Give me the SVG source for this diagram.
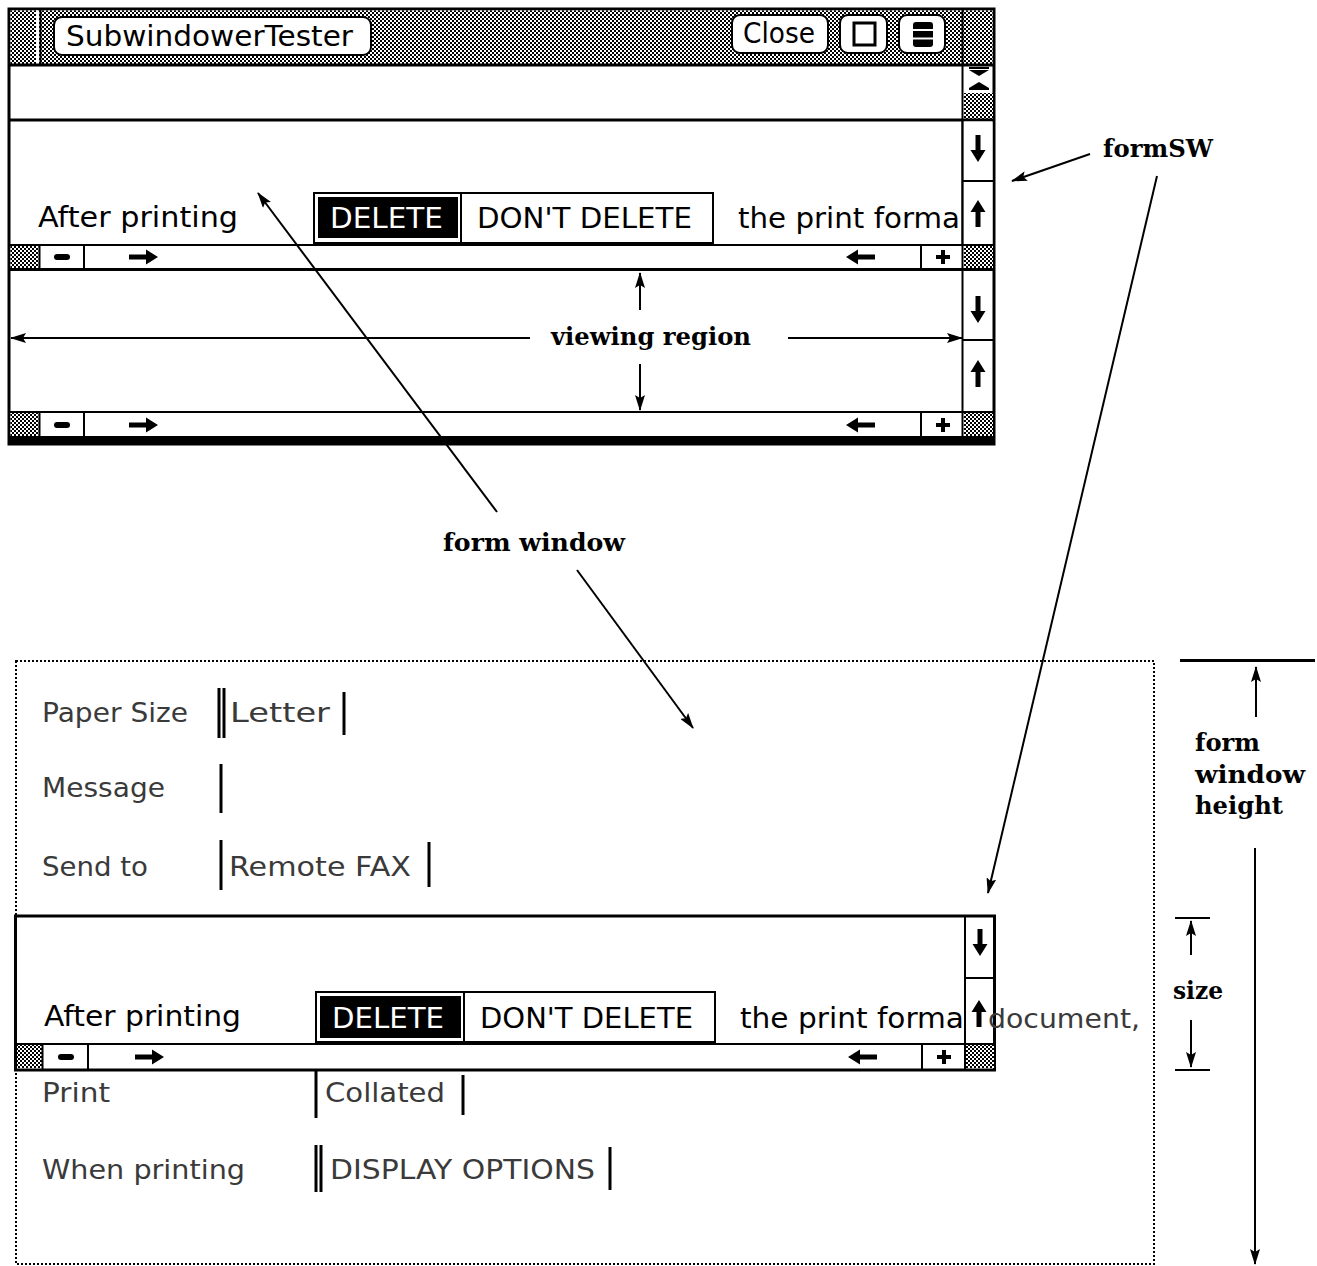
<svg xmlns="http://www.w3.org/2000/svg" xmlns:xlink="http://www.w3.org/1999/xlink" width="1317" height="1266" viewBox="0 0 1317 1266">
<style>
.ui{font-family:"DejaVu Sans","Liberation Sans",sans-serif;font-size:28px;fill:#000}
.inv{font-family:"DejaVu Sans","Liberation Sans",sans-serif;font-size:28px;fill:#fff}
.fld{font-family:"DejaVu Sans","Liberation Sans",sans-serif;font-size:27px;fill:#3a3a3a}
.ann{font-family:"DejaVu Serif","Liberation Serif",serif;font-size:25px;font-weight:bold;fill:#000}
.ln{stroke:#000;fill:none}
.bar{stroke:#000;stroke-width:3}
.conn{stroke:#000;stroke-width:2;fill:none}
.btn{fill:#fff;stroke:#000;stroke-width:2}
</style>
<defs>
<pattern id="chk" width="4" height="4" patternUnits="userSpaceOnUse">
<rect width="4" height="4" fill="#fff"/>
<rect width="2" height="2" fill="#000"/>
<rect x="2" y="2" width="2" height="2" fill="#000"/>
</pattern>
<marker id="ah" markerUnits="userSpaceOnUse" markerWidth="16" markerHeight="10" refX="15" refY="5" orient="auto-start-reverse">
<path d="M0,0 L16,5 L0,10 L3,5 z" fill="#000"/>
</marker>
<path id="aDown" d="M-2.5,-14 h5 v15 h5 l-7.5,12 l-7.5,-12 h5 z" fill="#000"/>
<path id="aUp" d="M-2.5,14 h5 v-15 h5 l-7.5,-12 l-7.5,12 h5 z" fill="#000"/>
<path id="aRight" d="M-15,-2.5 h17 v-5 l12,7.5 l-12,7.5 v-5 h-17 z" fill="#000"/>
<path id="aLeft" d="M15,-2.5 h-17 v-5 l-12,7.5 l12,7.5 v-5 h17 z" fill="#000"/>
<rect id="minus" x="-8" y="-3" width="16" height="6" rx="3" fill="#000"/>
<path id="plus" d="M-2,-7 h4 v5 h5 v4 h-5 v5 h-4 v-5 h-5 v-4 h5 z" fill="#000"/>
</defs>

<!-- Top window -->
<g id="topWindow">
<rect x="9" y="9" width="985" height="435" fill="#fff" stroke="#000" stroke-width="3"/>
<rect x="10.5" y="10.5" width="982" height="54" fill="url(#chk)"/>
<rect x="36" y="10.5" width="3" height="54" fill="#fff"/>
<line class="ln" x1="40.5" y1="10" x2="40.5" y2="65" stroke-width="2"/>
<line class="ln" x1="9" y1="65" x2="994" y2="65" stroke-width="3"/>
<g id="titleButton">
<rect class="btn" x="54" y="17" width="317" height="38" rx="8"/>
<text class="ui" x="66" y="46" textLength="287" lengthAdjust="spacingAndGlyphs">SubwindowerTester</text>
</g>
<g id="closeButton">
<rect class="btn" x="732" y="15" width="96" height="38" rx="8"/>
<text class="ui" x="743" y="43" textLength="72" lengthAdjust="spacingAndGlyphs">Close</text>
</g>
<g id="sizeButton">
<rect class="btn" x="840" y="15" width="47" height="38" rx="8"/>
<rect x="854" y="23" width="21" height="22" fill="#fff" stroke="#000" stroke-width="3"/>
</g>
<g id="menuButton">
<rect class="btn" x="899" y="15" width="46" height="38" rx="8"/>
<rect x="913" y="22" width="20" height="25" rx="3" fill="#000"/>
<line x1="913" y1="30" x2="933" y2="30" stroke="#fff" stroke-width="2"/>
<line x1="913" y1="38.5" x2="933" y2="38.5" stroke="#fff" stroke-width="2"/>
</g>
<line class="ln" x1="962.5" y1="10" x2="962.5" y2="437" stroke-width="2"/>

<!-- top subwindow scroll column -->
<rect x="969" y="67" width="20" height="2" fill="#000"/>
<polygon points="969,70 989,70 979,76" fill="#000"/>
<polygon points="969,88 989,88 979,82" fill="#000"/>
<rect x="969" y="88" width="20" height="2" fill="#000"/>
<rect x="964" y="93" width="29" height="26" fill="url(#chk)"/>
<line class="ln" x1="9" y1="120" x2="994" y2="120" stroke-width="3"/>

<!-- middle subwindow -->
<text class="ui" x="38" y="227" textLength="200" lengthAdjust="spacingAndGlyphs">After printing</text>
<rect x="314" y="193" width="147" height="50" fill="#fff" stroke="#000" stroke-width="2"/>
<rect x="318" y="197" width="140" height="41" fill="#000"/>
<text class="inv" x="330" y="228" textLength="113" lengthAdjust="spacingAndGlyphs">DELETE</text>
<rect x="461" y="193" width="252" height="50" fill="#fff" stroke="#000" stroke-width="2"/>
<text class="ui" x="477" y="228" textLength="215" lengthAdjust="spacingAndGlyphs">DON'T DELETE</text>
<text class="ui" x="738" y="228" textLength="222" lengthAdjust="spacingAndGlyphs">the print forma</text>
<rect x="963.5" y="121.5" width="29" height="123" fill="#fff"/>
<line class="ln" x1="962.5" y1="121" x2="962.5" y2="245" stroke-width="2"/>
<line class="ln" x1="963" y1="181" x2="993" y2="181" stroke-width="2"/>
<use href="#aDown" x="978" y="149"/>
<use href="#aUp" x="978" y="213"/>
<!-- middle h-scrollbar -->
<line class="ln" x1="10" y1="245" x2="993" y2="245" stroke-width="2"/>
<rect x="10.5" y="246" width="28" height="22" fill="url(#chk)"/>
<line class="ln" x1="39.5" y1="245" x2="39.5" y2="269" stroke-width="2"/>
<line class="ln" x1="84" y1="245" x2="84" y2="269" stroke-width="2"/>
<use href="#minus" x="62" y="257"/>
<use href="#aRight" x="144" y="257"/>
<use href="#aLeft" x="860" y="257"/>
<line class="ln" x1="921" y1="245" x2="921" y2="269" stroke-width="2"/>
<use href="#plus" x="943" y="257"/>
<rect x="964" y="246" width="29" height="22" fill="url(#chk)"/>
<line class="ln" x1="9" y1="269.5" x2="994" y2="269.5" stroke-width="3"/>

<!-- lower subwindow -->
<line class="ln" x1="963" y1="340" x2="993" y2="340" stroke-width="2"/>
<use href="#aDown" x="978" y="310"/>
<use href="#aUp" x="978" y="373"/>
<line class="ln" x1="10" y1="412" x2="993" y2="412" stroke-width="2"/>
<rect x="10.5" y="413" width="28" height="23" fill="url(#chk)"/>
<line class="ln" x1="39.5" y1="412" x2="39.5" y2="437" stroke-width="2"/>
<line class="ln" x1="84" y1="412" x2="84" y2="437" stroke-width="2"/>
<use href="#minus" x="62" y="425"/>
<use href="#aRight" x="144" y="425"/>
<use href="#aLeft" x="860" y="425"/>
<line class="ln" x1="921" y1="412" x2="921" y2="437" stroke-width="2"/>
<use href="#plus" x="943" y="425"/>
<rect x="964" y="413" width="29" height="23" fill="url(#chk)"/>
<rect x="9" y="436" width="986" height="9" fill="#000"/>
</g>

<!-- Bottom form window -->
<g id="formWindow">
<rect x="16" y="661" width="1138" height="603" fill="none" stroke="#000" stroke-width="2" stroke-dasharray="2 2"/>
<text class="fld" x="42" y="722" textLength="146" lengthAdjust="spacingAndGlyphs">Paper Size</text>
<line class="bar" x1="219" y1="688" x2="219" y2="738"/>
<line class="bar" x1="224" y1="688" x2="224" y2="738"/>
<text class="fld" x="230" y="722" textLength="100" lengthAdjust="spacingAndGlyphs">Letter</text>
<line class="bar" x1="344" y1="692" x2="344" y2="735"/>
<text class="fld" x="42" y="797" textLength="123" lengthAdjust="spacingAndGlyphs">Message</text>
<line class="bar" x1="221" y1="764" x2="221" y2="813"/>
<text class="fld" x="42" y="876" textLength="106" lengthAdjust="spacingAndGlyphs">Send to</text>
<line class="bar" x1="221" y1="840" x2="221" y2="890"/>
<text class="fld" x="229" y="876" textLength="182" lengthAdjust="spacingAndGlyphs">Remote FAX</text>
<line class="bar" x1="429" y1="842" x2="429" y2="887"/>
<text class="fld" x="42" y="1102" textLength="68" lengthAdjust="spacingAndGlyphs">Print</text>
<line class="bar" x1="316" y1="1070" x2="316" y2="1118"/>
<text class="fld" x="325" y="1102" textLength="120" lengthAdjust="spacingAndGlyphs">Collated</text>
<line class="bar" x1="463" y1="1075" x2="463" y2="1115"/>
<text class="fld" x="42" y="1179" textLength="203" lengthAdjust="spacingAndGlyphs">When printing</text>
<line class="bar" x1="316" y1="1145" x2="316" y2="1192"/>
<line class="bar" x1="321" y1="1145" x2="321" y2="1192"/>
<text class="fld" x="330" y="1179" textLength="265" lengthAdjust="spacingAndGlyphs">DISPLAY OPTIONS</text>
<line class="bar" x1="610" y1="1147" x2="610" y2="1190"/>
</g>

<!-- Inset subwindow (size) -->
<g id="insetWindow">
<rect x="15.5" y="916" width="979" height="154" fill="#fff" stroke="#000" stroke-width="3"/>
<text class="ui" x="44" y="1026" textLength="197" lengthAdjust="spacingAndGlyphs">After printing</text>
<rect x="316" y="992" width="148" height="50" fill="#fff" stroke="#000" stroke-width="2"/>
<rect x="320" y="996" width="141" height="42" fill="#000"/>
<text class="inv" x="332" y="1028" textLength="112" lengthAdjust="spacingAndGlyphs">DELETE</text>
<rect x="464" y="992" width="251" height="50" fill="#fff" stroke="#000" stroke-width="2"/>
<text class="ui" x="480" y="1028" textLength="213" lengthAdjust="spacingAndGlyphs">DON'T DELETE</text>
<text class="ui" x="740" y="1028" textLength="224" lengthAdjust="spacingAndGlyphs">the print forma</text>
<text class="fld" x="988" y="1028" textLength="152" lengthAdjust="spacingAndGlyphs">document,</text>
<line class="ln" x1="965" y1="917" x2="965" y2="1070" stroke-width="2"/>
<line class="ln" x1="965" y1="978" x2="995" y2="978" stroke-width="2"/>
<use href="#aDown" x="980" y="943"/>
<use href="#aUp" x="979" y="1013"/>
<line class="ln" x1="16" y1="1044" x2="995" y2="1044" stroke-width="2"/>
<rect x="17" y="1045" width="25" height="23" fill="url(#chk)"/>
<line class="ln" x1="42.5" y1="1044" x2="42.5" y2="1070" stroke-width="2"/>
<line class="ln" x1="88" y1="1044" x2="88" y2="1070" stroke-width="2"/>
<use href="#minus" x="66" y="1057"/>
<use href="#aRight" x="150" y="1057"/>
<use href="#aLeft" x="862" y="1057"/>
<line class="ln" x1="922" y1="1044" x2="922" y2="1070" stroke-width="2"/>
<use href="#plus" x="944" y="1057"/>
<rect x="966" y="1045" width="28" height="23" fill="url(#chk)"/>
</g>

<!-- Annotation labels -->
<g id="labelFormSW"><text class="ann" x="1103" y="157" textLength="110" lengthAdjust="spacingAndGlyphs">formSW</text></g>
<g id="labelViewing"><text class="ann" x="551" y="345" textLength="200" lengthAdjust="spacingAndGlyphs">viewing region</text></g>
<g id="labelFormWindow"><text class="ann" x="443" y="551" textLength="182" lengthAdjust="spacingAndGlyphs">form window</text></g>
<g id="labelHeight">
<text class="ann" x="1195" y="751" textLength="65" lengthAdjust="spacingAndGlyphs">form</text>
<text class="ann" x="1195" y="783" textLength="110" lengthAdjust="spacingAndGlyphs">window</text>
<text class="ann" x="1195" y="814" textLength="88" lengthAdjust="spacingAndGlyphs">height</text>
</g>
<g id="labelSize"><text class="ann" x="1173" y="999" textLength="50" lengthAdjust="spacingAndGlyphs">size</text></g>

<!-- Connectors -->
<g id="connectors">
<line class="conn" x1="1090" y1="154" x2="1012" y2="181" marker-end="url(#ah)"/>
<line class="conn" x1="1157" y1="176" x2="988" y2="893" marker-end="url(#ah)"/>
<line class="conn" x1="530" y1="338" x2="11" y2="338" marker-end="url(#ah)"/>
<line class="conn" x1="788" y1="338" x2="962" y2="338" marker-end="url(#ah)"/>
<line class="conn" x1="640" y1="310" x2="640" y2="273" marker-end="url(#ah)"/>
<line class="conn" x1="640" y1="364" x2="640" y2="410" marker-end="url(#ah)"/>
<line class="conn" x1="497" y1="512" x2="258" y2="193" marker-end="url(#ah)"/>
<line class="conn" x1="577" y1="570" x2="693" y2="728" marker-end="url(#ah)"/>
<line class="ln" x1="1180" y1="660.5" x2="1315" y2="660.5" stroke-width="3"/>
<line class="conn" x1="1256" y1="717" x2="1256" y2="667" marker-end="url(#ah)"/>
<line class="conn" x1="1255" y1="848" x2="1255" y2="1264" marker-end="url(#ah)"/>
<line class="ln" x1="1175" y1="918" x2="1210" y2="918" stroke-width="2"/>
<line class="ln" x1="1175" y1="1070" x2="1210" y2="1070" stroke-width="2"/>
<line class="conn" x1="1191" y1="955" x2="1191" y2="921" marker-end="url(#ah)"/>
<line class="conn" x1="1191" y1="1020" x2="1191" y2="1067" marker-end="url(#ah)"/>
</g>
</svg>
